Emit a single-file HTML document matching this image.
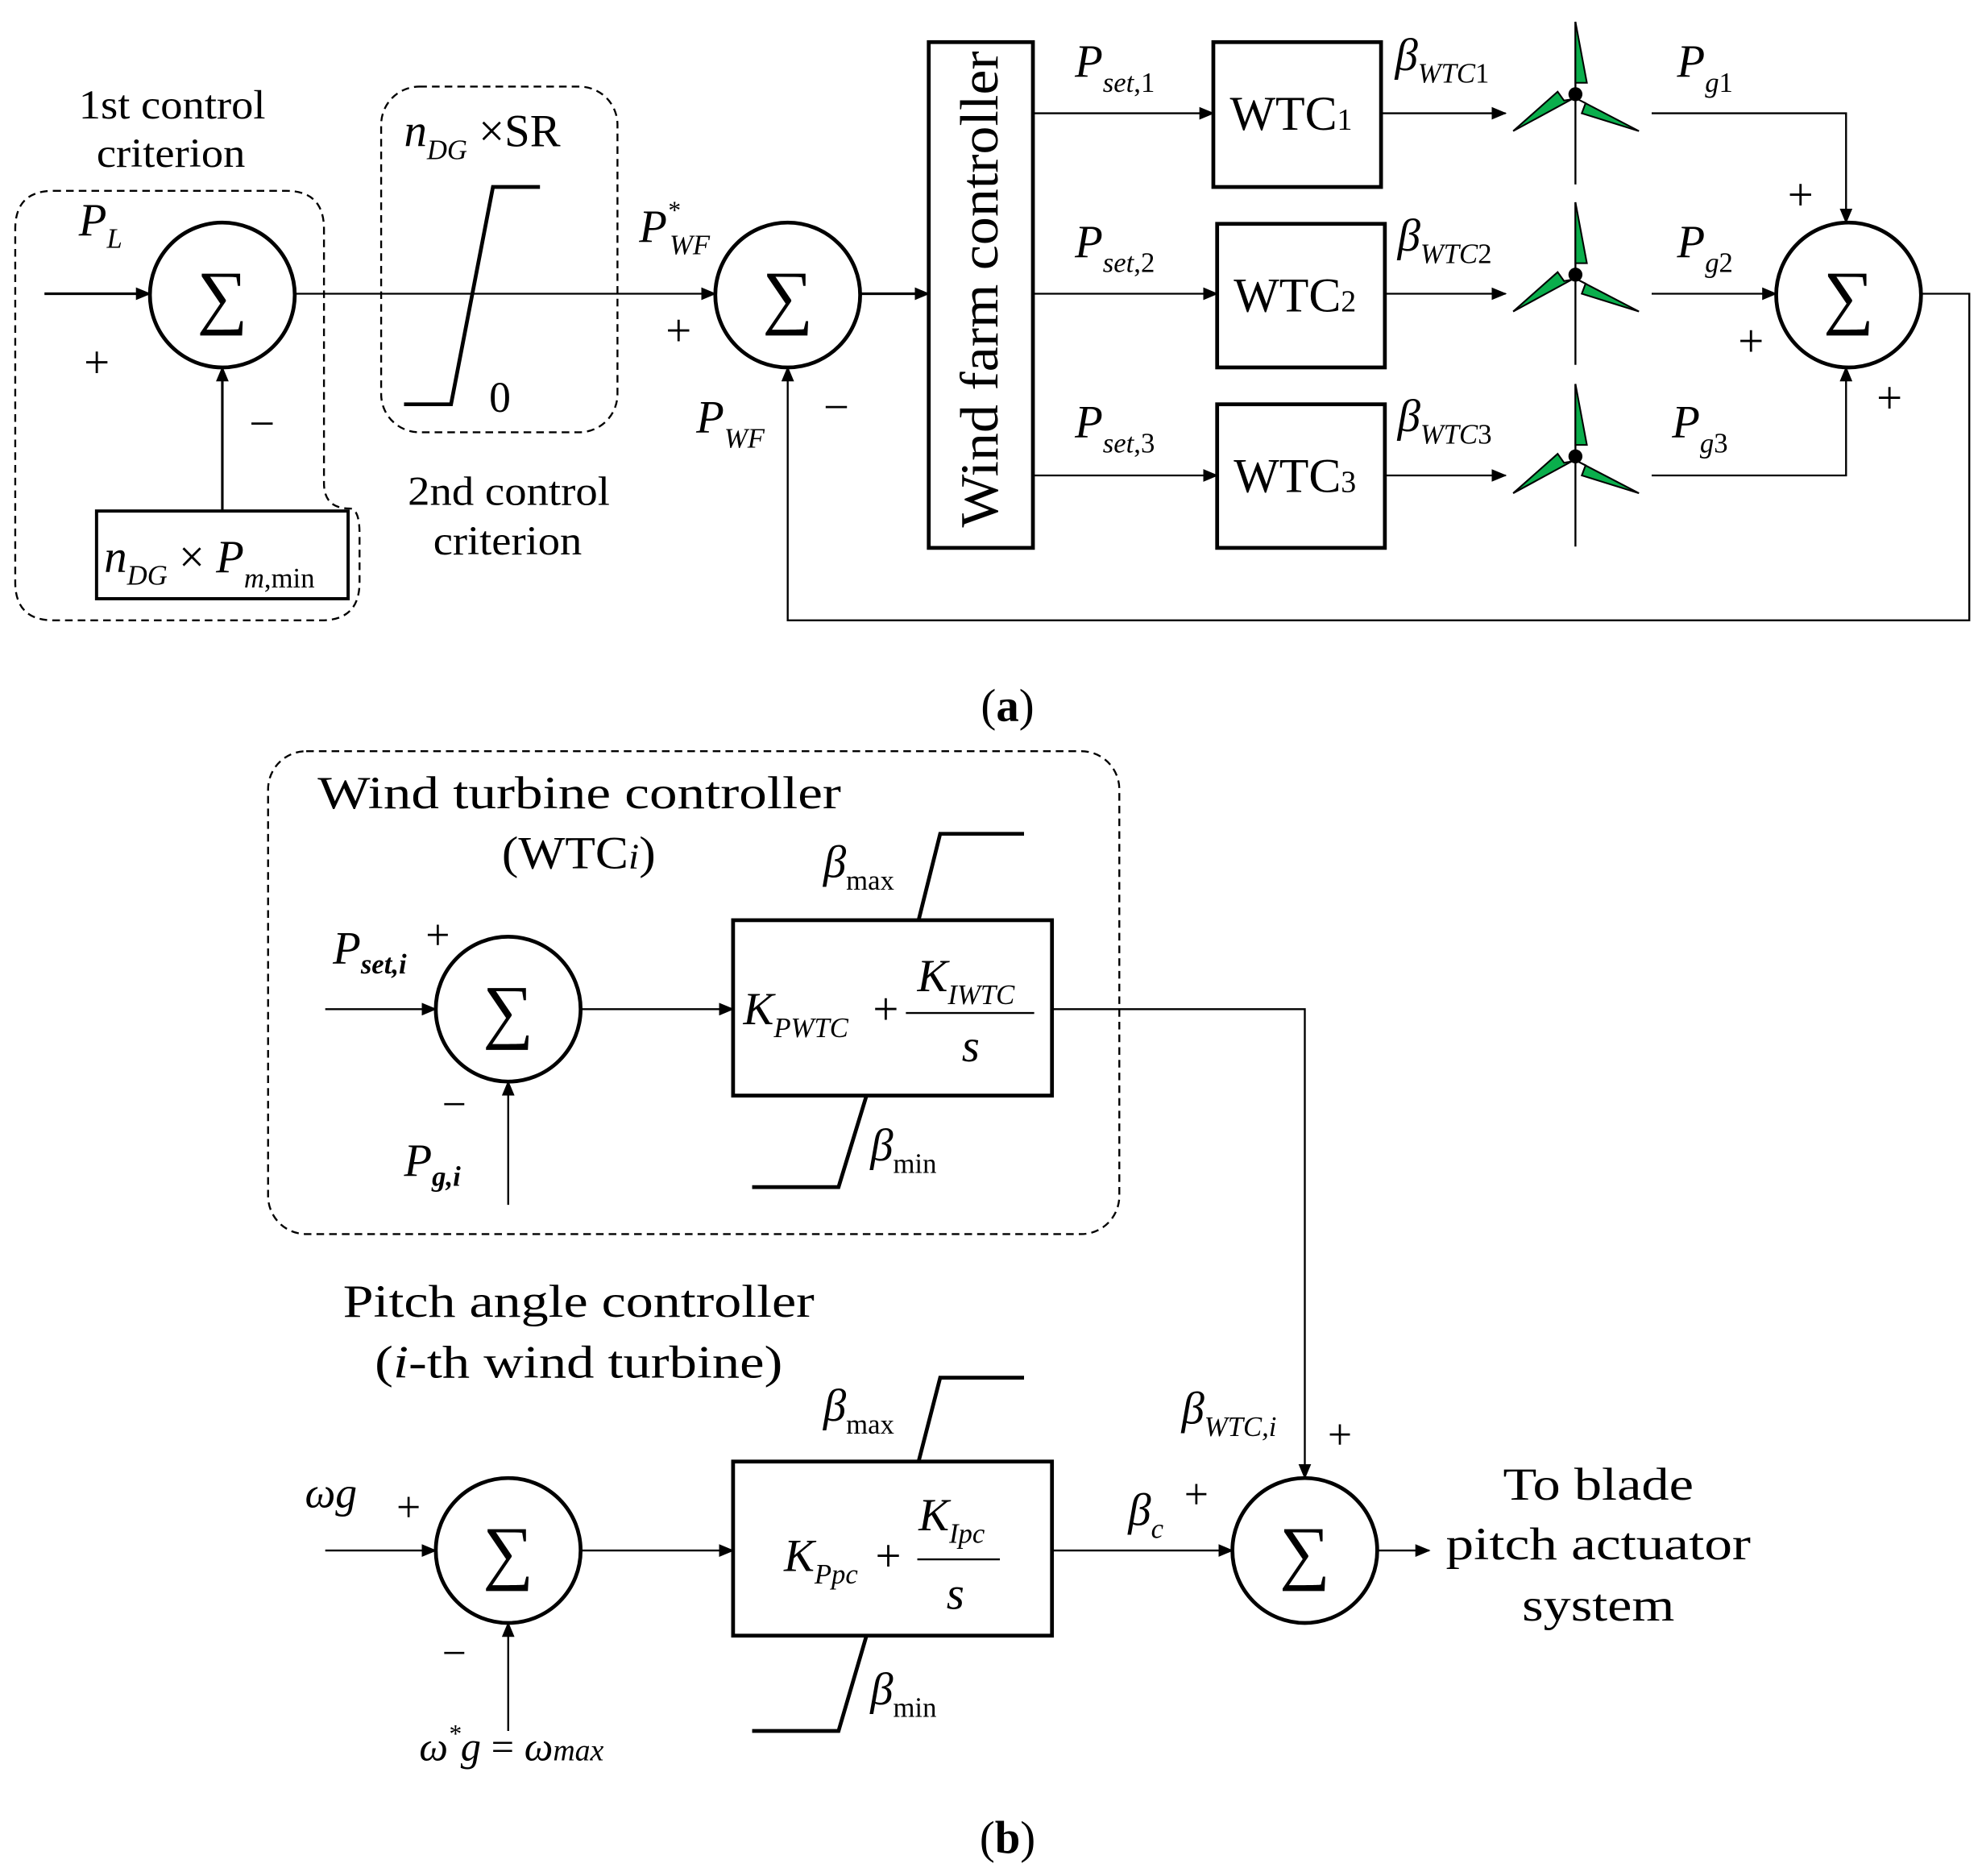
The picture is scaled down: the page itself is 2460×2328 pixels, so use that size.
<!DOCTYPE html>
<html><head><meta charset="utf-8"><style>
html,body{margin:0;padding:0;background:#fff}
svg{display:block}
text{font-family:"Liberation Serif",serif;fill:#000}
.it{font-style:italic}
</style></head><body>
<svg width="2460" height="2328" viewBox="0 0 1560 1476" xmlns="http://www.w3.org/2000/svg">
<defs>
<marker id="ar" markerWidth="12" markerHeight="10" refX="11" refY="5" orient="auto" markerUnits="userSpaceOnUse">
<path d="M0,0 L12,5 L0,10 Z" fill="#000"/></marker>
<g id="tb">
<line x1="0" y1="-57" x2="0" y2="71" stroke="#000" stroke-width="1.5"/>
<path d="M0,-57 L9,-9 L0,-9 Z" fill="#0aae4c" stroke="#000" stroke-width="1.3"/>
<path d="M-3,4 L-49,29 L-14,-2 L-9,5 Z" fill="#0aae4c" stroke="#000" stroke-width="1.3"/>
<path d="M2,4 L50,29 L5,15 L8,7 Z" fill="#0aae4c" stroke="#000" stroke-width="1.3"/>
<circle cx="0" cy="0" r="5.5" fill="#000"/>
</g>
</defs>
<g fill="none" stroke="#000" stroke-width="2">
<path d="M42,150 H225 Q255,150 255,180 V380 Q255,400 275,400 Q283,400 283,420 V458 Q283,488 253,488 H42 Q12,488 12,458 V180 Q12,150 42,150 Z" stroke-dasharray="6,4" stroke-width="1.5"/>
<rect x="300" y="68" width="186" height="272" rx="30" stroke-dasharray="6,4" stroke-width="1.5"/>
<rect x="211" y="591" width="670" height="380" rx="30" stroke-dasharray="6,4" stroke-width="1.5"/>
<circle cx="175" cy="232" r="57" stroke-width="3"/>
<line x1="35" y1="231" x2="118" y2="231" marker-end="url(#ar)"/>
<rect x="76" y="402" width="198" height="69" stroke-width="2.5"/>
<line x1="175" y1="402" x2="175" y2="289" marker-end="url(#ar)"/>
<line x1="232" y1="231" x2="563" y2="231" marker-end="url(#ar)" stroke-width="1.5"/>
<polyline points="318,318 355,318 388,147 425,147" stroke-width="3"/>
<circle cx="620" cy="232" r="57" stroke-width="3"/>
<polyline points="1512,231 1550,231 1550,488 620,488 620,289" marker-end="url(#ar)" stroke-width="1.5"/>
<line x1="677" y1="231" x2="731" y2="231" marker-end="url(#ar)"/>
<rect x="731" y="33" width="82" height="398" stroke-width="3"/>
<line x1="813" y1="89" x2="955" y2="89" marker-end="url(#ar)" stroke-width="1.5"/>
<line x1="813" y1="231" x2="958" y2="231" marker-end="url(#ar)" stroke-width="1.5"/>
<line x1="813" y1="374" x2="958" y2="374" marker-end="url(#ar)" stroke-width="1.5"/>
<rect x="955" y="33" width="132" height="114" stroke-width="3"/>
<rect x="958" y="176" width="132" height="113" stroke-width="3"/>
<rect x="958" y="318" width="132" height="113" stroke-width="3"/>
<line x1="1087" y1="89" x2="1185" y2="89" marker-end="url(#ar)" stroke-width="1.5"/>
<line x1="1090" y1="231" x2="1185" y2="231" marker-end="url(#ar)" stroke-width="1.5"/>
<line x1="1090" y1="374" x2="1185" y2="374" marker-end="url(#ar)" stroke-width="1.5"/>
<circle cx="1455" cy="232" r="57" stroke-width="3"/>
<polyline points="1300,89 1453,89 1453,175" marker-end="url(#ar)" stroke-width="1.5"/>
<line x1="1300" y1="231" x2="1398" y2="231" marker-end="url(#ar)" stroke-width="1.5"/>
<polyline points="1300,374 1453,374 1453,289" marker-end="url(#ar)" stroke-width="1.5"/>
<circle cx="400" cy="794" r="57" stroke-width="3"/>
<line x1="256" y1="794" x2="343" y2="794" marker-end="url(#ar)" stroke-width="1.5"/>
<line x1="400" y1="948" x2="400" y2="851" marker-end="url(#ar)" stroke-width="1.5"/>
<line x1="457" y1="794" x2="577" y2="794" marker-end="url(#ar)" stroke-width="1.5"/>
<rect x="577" y="724" width="251" height="138" stroke-width="3"/>
<polyline points="723,724 740,656 806,656" stroke-width="3"/>
<polyline points="682,862 660,934 592,934" stroke-width="3"/>
<polyline points="828,794 1027,794 1027,1163" marker-end="url(#ar)" stroke-width="1.5"/>
<circle cx="400" cy="1220" r="57" stroke-width="3"/>
<line x1="256" y1="1220" x2="343" y2="1220" marker-end="url(#ar)" stroke-width="1.5"/>
<line x1="400" y1="1362" x2="400" y2="1277" marker-end="url(#ar)" stroke-width="1.5"/>
<line x1="457" y1="1220" x2="577" y2="1220" marker-end="url(#ar)" stroke-width="1.5"/>
<rect x="577" y="1150" width="251" height="137" stroke-width="3"/>
<polyline points="723,1150 740,1084 806,1084" stroke-width="3"/>
<polyline points="682,1287 660,1362 592,1362" stroke-width="3"/>
<line x1="828" y1="1220" x2="970" y2="1220" marker-end="url(#ar)" stroke-width="1.5"/>
<circle cx="1027" cy="1220" r="57" stroke-width="3"/>
<line x1="1084" y1="1220" x2="1125" y2="1220" marker-end="url(#ar)" stroke-width="1.5"/>
<line x1="713" y1="797" x2="814" y2="797" stroke-width="1.5"/>
<line x1="722" y1="1227" x2="787" y2="1227" stroke-width="1.5"/>
</g>
<use href="#tb" x="1240" y="74"/>
<use href="#tb" x="1240" y="216"/>
<use href="#tb" x="1240" y="359"/>
<g font-size="56" text-anchor="middle">
<text x="175" y="252">∑</text><text x="620" y="252">∑</text><text x="1455" y="252">∑</text>
<text x="400" y="814">∑</text><text x="400" y="1240">∑</text><text x="1027" y="1240">∑</text>
</g>
<g font-size="32">
<text x="62" y="93" textLength="147" lengthAdjust="spacingAndGlyphs">1st control</text>
<text x="76" y="131" textLength="117" lengthAdjust="spacingAndGlyphs">criterion</text>
<text x="321" y="397" textLength="159" lengthAdjust="spacingAndGlyphs">2nd control</text>
<text x="341" y="436" textLength="117" lengthAdjust="spacingAndGlyphs">criterion</text>
<text x="62" y="185" class="it" font-size="36">P<tspan font-size="22" dy="10">L</tspan></text>
<text x="66" y="297" font-size="36">+</text>
<text x="196" y="345" font-size="36">−</text>
<text x="82" y="450" font-size="36"><tspan class="it">n</tspan><tspan font-size="22" dy="10" class="it">DG</tspan><tspan dy="-10"> × </tspan><tspan class="it">P</tspan><tspan font-size="22" dy="12"><tspan class="it">m</tspan>,min</tspan></text>
<text x="318" y="115" font-size="36"><tspan class="it">n</tspan><tspan font-size="22" dy="10" class="it">DG</tspan><tspan dy="-10"> ×SR</tspan></text>
<text x="385" y="324" font-size="34">0</text>
<text x="503" y="190" class="it" font-size="36">P<tspan font-size="20" dy="-18">*</tspan><tspan font-size="22" dx="-8" dy="28">WF</tspan></text>
<text x="524" y="272" font-size="36">+</text>
<text x="648" y="332" font-size="36">−</text>
<text x="548" y="340" class="it" font-size="36">P<tspan font-size="22" dy="12">WF</tspan></text>
<text transform="translate(785,415) rotate(-90)" font-size="42" textLength="375" lengthAdjust="spacingAndGlyphs">Wind farm controller</text>
<text x="846" y="60" class="it" font-size="36">P<tspan font-size="22" dy="12">set<tspan font-style="normal">,1</tspan></tspan></text>
<text x="846" y="202" class="it" font-size="36">P<tspan font-size="22" dy="12">set<tspan font-style="normal">,2</tspan></tspan></text>
<text x="846" y="344" class="it" font-size="36">P<tspan font-size="22" dy="12">set<tspan font-style="normal">,3</tspan></tspan></text>
<text x="968" y="102" font-size="38">WTC<tspan font-size="24">1</tspan></text>
<text x="971" y="245" font-size="38">WTC<tspan font-size="24">2</tspan></text>
<text x="971" y="387" font-size="38">WTC<tspan font-size="24">3</tspan></text>
<text x="1098" y="55" class="it" font-size="36">β<tspan font-size="22" dy="10">WTC<tspan font-style="normal">1</tspan></tspan></text>
<text x="1100" y="197" class="it" font-size="36">β<tspan font-size="22" dy="10">WTC<tspan font-style="normal">2</tspan></tspan></text>
<text x="1100" y="339" class="it" font-size="36">β<tspan font-size="22" dy="10">WTC<tspan font-style="normal">3</tspan></tspan></text>
<text x="1320" y="60" class="it" font-size="36">P<tspan font-size="22" dy="12">g<tspan font-style="normal">1</tspan></tspan></text>
<text x="1320" y="202" class="it" font-size="36">P<tspan font-size="22" dy="12">g<tspan font-style="normal">2</tspan></tspan></text>
<text x="1316" y="344" class="it" font-size="36">P<tspan font-size="22" dy="12">g<tspan font-style="normal">3</tspan></tspan></text>
<text x="1407" y="165" font-size="36">+</text>
<text x="1368" y="280" font-size="36">+</text>
<text x="1477" y="325" font-size="36">+</text>
<text x="793" y="567" text-anchor="middle" font-size="36">(<tspan font-weight="bold">a</tspan>)</text>
<text x="793" y="1458" text-anchor="middle" font-size="36">(<tspan font-weight="bold">b</tspan>)</text>
<text x="250" y="636" font-size="36" textLength="412" lengthAdjust="spacingAndGlyphs">Wind turbine controller</text>
<text x="395" y="683" font-size="36" textLength="121" lengthAdjust="spacingAndGlyphs">(WTC<tspan class="it" font-size="28">i</tspan>)</text>
<text x="270" y="1036" font-size="36" textLength="371" lengthAdjust="spacingAndGlyphs">Pitch angle controller</text>
<text x="295" y="1084" font-size="36" textLength="321" lengthAdjust="spacingAndGlyphs">(<tspan class="it">i</tspan>-th wind turbine)</text>
<text x="262" y="758" class="it" font-size="36">P<tspan font-size="22" dy="8" font-weight="bold">set,i</tspan></text>
<text x="335" y="747" font-size="34">+</text>
<text x="348" y="880" font-size="34">−</text>
<text x="318" y="925" class="it" font-size="36">P<tspan font-size="22" dy="8" font-weight="bold">g,i</tspan></text>
<text x="585" y="806" class="it" font-size="36">K<tspan font-size="22" dy="10">PWTC</tspan></text>
<text x="687" y="806" font-size="36">+</text>
<text x="722" y="780" class="it" font-size="36">K<tspan font-size="22" dy="10">IWTC</tspan></text>
<text x="757" y="835" class="it" font-size="36">s</text>
<text x="648" y="690" class="it" font-size="36">β<tspan font-size="22" font-style="normal" dy="10">max</tspan></text>
<text x="685" y="913" class="it" font-size="36">β<tspan font-size="22" font-style="normal" dy="10">min</tspan></text>
<text x="240" y="1186" class="it" font-size="34">ωg</text>
<text x="312" y="1197" font-size="34">+</text>
<text x="348" y="1312" font-size="34">−</text>
<text x="330" y="1385" class="it" font-size="32">ω<tspan font-size="20" dy="-14">*</tspan><tspan dy="14">g</tspan><tspan font-style="normal"> = </tspan>ω<tspan font-size="24">max</tspan></text>
<text x="617" y="1236" class="it" font-size="36">K<tspan font-size="22" dy="10">Ppc</tspan></text>
<text x="689" y="1236" font-size="36">+</text>
<text x="723" y="1204" class="it" font-size="36">K<tspan font-size="22" dy="10">Ipc</tspan></text>
<text x="745" y="1266" class="it" font-size="36">s</text>
<text x="648" y="1118" class="it" font-size="36">β<tspan font-size="22" font-style="normal" dy="10">max</tspan></text>
<text x="685" y="1341" class="it" font-size="36">β<tspan font-size="22" font-style="normal" dy="10">min</tspan></text>
<text x="888" y="1200" class="it" font-size="36">β<tspan font-size="22" dy="10">c</tspan></text>
<text x="932" y="1187" font-size="34">+</text>
<text x="930" y="1120" class="it" font-size="36">β<tspan font-size="22" dy="10">WTC,i</tspan></text>
<text x="1045" y="1140" font-size="34">+</text>
<text x="1183" y="1180" font-size="36" textLength="150" lengthAdjust="spacingAndGlyphs">To blade</text>
<text x="1138" y="1227" font-size="36" textLength="240" lengthAdjust="spacingAndGlyphs">pitch actuator</text>
<text x="1198" y="1275" font-size="36" textLength="120" lengthAdjust="spacingAndGlyphs">system</text>
</g>
</svg>
</body></html>
